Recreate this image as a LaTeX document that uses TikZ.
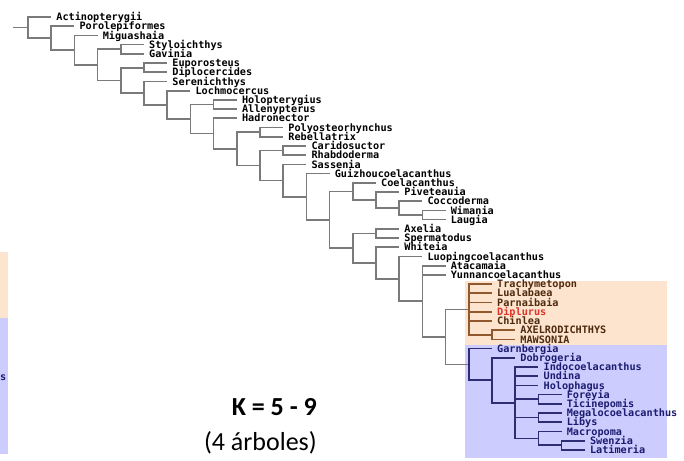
\documentclass[tikz,border=0pt]{standalone}
\usepackage{fontspec}
\setmainfont{Carlito}
\setmonofont{DejaVu Sans Mono}
\usepackage{tikz}
\definecolor{brg}{RGB}{122,122,122}
\definecolor{brn}{RGB}{145,88,45}
\definecolor{brt}{RGB}{78,42,14}
\definecolor{dip}{RGB}{222,52,42}
\definecolor{nvy}{RGB}{45,45,115}
\definecolor{nvt}{RGB}{28,28,112}
\definecolor{orf}{RGB}{253,228,206}
\definecolor{blf}{RGB}{204,204,255}

\begin{document}
\begin{tikzpicture}[x=1pt,y=-1pt,
  lf/.style={anchor=west,inner xsep=5pt,inner ysep=0pt,text height=7.3pt,text depth=0pt,
    font=\ttfamily\bfseries\fontsize{10.2}{11}\selectfont},
  br/.style={draw=brg,line width=1.7pt},
  bro/.style={draw=brn,line width=1.7pt},
  brb/.style={draw=nvy,line width=1.7pt},
  big/.style={inner sep=0pt,anchor=base east,font=\fontsize{26}{30}\selectfont}]
  \fill[white] (0,0) rectangle (684,460);
  \useasboundingbox (0,0) rectangle (684,460);
  \fill[orf] (465,281) rectangle (667,344.5); \fill[blf] (465,344.5) rectangle (667,458);
  \fill[orf] (0,252) rectangle (8,318); \fill[blf] (0,318) rectangle (8,454);
  \foreach \n/\d/\c [count=\i] in {Actinopterygii/1/black,Porolepiformes/2/black,Miguashaia/3/black,
    Styloichthys/5/black,Gavinia/5/black,Euporosteus/6/black,Diplocercides/6/black,Serenichthys/6/black,
    Lochmocercus/7/black,Holopterygius/9/black,Allenypterus/9/black,Hadronector/9/black,
    Polyosteorhynchus/11/black,Rebellatrix/11/black,Caridosuctor/12/black,Rhabdoderma/12/black,
    Sassenia/12/black,Guizhoucoelacanthus/13/black,Coelacanthus/15/black,Piveteauia/16/black,
    Coccoderma/17/black,Wimania/18/black,Laugia/18/black,Axelia/16/black,Spermatodus/16/black,
    Whiteia/16/black,Luopingcoelacanthus/17/black,Atacamaia/18/black,Yunnancoelacanthus/18/black,
    Trachymetopon/20/brt,Lualabaea/20/brt,Parnaibaia/20/brt,Diplurus/20/dip,Chinlea/20/brt,
    AXELRODICHTHYS/21/brt,MAWSONIA/21/brt,
    Garnbergia/20/nvt,Dobrogeria/21/nvt,Indocoelacanthus/22/nvt,Undina/22/nvt,Holophagus/22/nvt,
    Foreyia/23/nvt,Ticinepomis/23/nvt,Megalocoelacanthus/23/nvt,Libys/23/nvt,Macropoma/23/nvt,
    Swenzia/24/nvt,Latimeria/24/nvt}
    \node[lf,text=\c] (\n) at ({28+23.2*\d},{17+9.21*(\i-1)}) {\n};
  \foreach \n/\d/\y in {root/0/27.58,pPor/1/38.17,pMig/2/50.12,pD3/3/64.82,pSG/4/49.24,pD4/4/80.41,
    pED/5/67.66,pSer/5/93.16,pLoc/6/104.86,pD7/7/119.03,pHA/8/104.50,pHad/8/133.57,pD9/9/148.83,
    pPR/10/132.13,pD10/10/165.54,pCR/11/150.55,pSas/11/180.53,pGui/12/196.70,pD13/13/219.83,
    pCoe/14/191.41,pPiv/15/200.05,pCoc/16/208.11,pWL/17/215.02,pAxe/14/248.25,pAS/15/233.44,
    pWhi/15/263.06,pLuo/16/278.87,pAta/17/301.29,pOB/18/336.90,pOra/19/309.42,pAM/20/334.75,
    pBlue/19/364.39,pDob/20/380.22,pInd/21/402.67,pFT/22/399.22,pML/22/417.64,pMac/22/438.36,
    pSL/23/445.27}
    \coordinate (\n) at ({28+23.2*\d},\y);
  \coordinate (stub) at (13,27.58);
  \draw[br] (stub) -- (root);
  \foreach \a/\b in {root/Actinopterygii.west,root/pPor,pPor/Porolepiformes.west,pPor/pMig,
    pMig/Miguashaia.west,pMig/pD3,pD3/pSG,pD3/pD4,pSG/Styloichthys.west,pSG/Gavinia.west,
    pD4/pED,pD4/pSer,pED/Euporosteus.west,pED/Diplocercides.west,pSer/Serenichthys.west,pSer/pLoc,
    pLoc/Lochmocercus.west,pLoc/pD7,pD7/pHA,pD7/pHad,pHA/Holopterygius.west,pHA/Allenypterus.west,
    pHad/Hadronector.west,pHad/pD9,pD9/pPR,pD9/pD10,pPR/Polyosteorhynchus.west,pPR/Rebellatrix.west,
    pD10/pCR,pD10/pSas,pCR/Caridosuctor.west,pCR/Rhabdoderma.west,pSas/Sassenia.west,pSas/pGui,
    pGui/Guizhoucoelacanthus.west,pGui/pD13,pD13/pCoe,pD13/pAxe,pCoe/Coelacanthus.west,pCoe/pPiv,
    pPiv/Piveteauia.west,pPiv/pCoc,pCoc/Coccoderma.west,pCoc/pWL,pWL/Wimania.west,pWL/Laugia.west,
    pAxe/pAS,pAxe/pWhi,pAS/Axelia.west,pAS/Spermatodus.west,pWhi/Whiteia.west,pWhi/pLuo,
    pLuo/Luopingcoelacanthus.west,pLuo/pAta,pAta/Atacamaia.west,pAta/Yunnancoelacanthus.west,
    pAta/pOB,pOB/pOra,pOB/pBlue}
    \draw[br] (\a) |- (\b);
  \foreach \b in {Trachymetopon,Lualabaea,Parnaibaia,Diplurus,Chinlea,pAM}
    \draw[bro] (pOra) |- (\b.west);
  \draw[bro] (pAM) |- (AXELRODICHTHYS.west); \draw[bro] (pAM) |- (MAWSONIA.west);
  \foreach \a/\b in {pBlue/Garnbergia,pBlue/pDob,pDob/Dobrogeria,pDob/pInd,pInd/Indocoelacanthus,
    pInd/Undina,pInd/Holophagus,pInd/pFT,pInd/pML,pInd/pMac,pFT/Foreyia,pFT/Ticinepomis,
    pML/Megalocoelacanthus,pML/Libys,pMac/Macropoma,pMac/pSL,pSL/Swenzia,pSL/Latimeria}
    \draw[brb] (\a) |- (\b.west);
  \node[lf,text=nvt,anchor=base west,inner xsep=0pt] (sfrag) at (0,380) {s};
  \node[big,font=\bfseries\fontsize{26}{30}\selectfont] (kval) at (317,415) {K = 5 - 9};
  \node[big] (ntrees) at (317,450) {(4 árboles)};
\end{tikzpicture}
\end{document}
